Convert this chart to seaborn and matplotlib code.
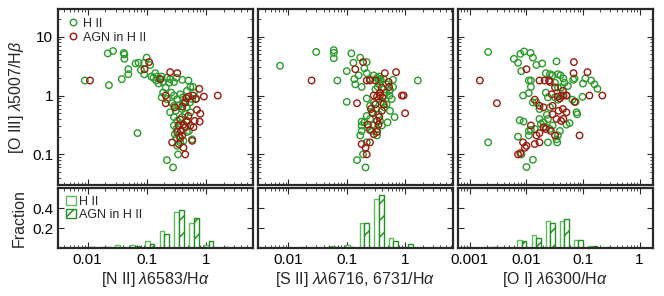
import numpy as np
import matplotlib
matplotlib.use('Agg')
import matplotlib.pyplot as plt
import seaborn as sns
from matplotlib.ticker import LogLocator, FixedLocator, NullFormatter, FuncFormatter
from matplotlib.lines import Line2D
from matplotlib.patches import Patch

sns.set_style('ticks')
plt.rcParams['font.family'] = ['Liberation Sans', 'DejaVu Sans']
plt.rcParams['mathtext.fontset'] = 'custom'
plt.rcParams['mathtext.rm'] = 'Liberation Sans'
plt.rcParams['mathtext.it'] = 'Liberation Sans:italic'
plt.rcParams['hatch.linewidth'] = 1.1

# ---- scatter data: line ratio (x) vs [O III]/Hbeta (y) ----
n2_hii_x = [0.009, 0.023, 0.022, 0.027, 0.041, 0.042, 0.042, 0.038, 0.049, 0.049, 0.065, 0.073, 0.08, 0.091,
            0.10, 0.091, 0.115, 0.07, 0.13, 0.14, 0.145, 0.17, 0.18, 0.19, 0.22, 0.24, 0.25, 0.29, 0.32, 0.40,
            0.51, 0.55, 0.21, 0.19, 0.18, 0.22, 0.26, 0.29, 0.33, 0.37, 0.41, 0.45, 0.59, 0.69, 0.63, 0.48,
            0.29, 0.31, 0.35, 0.40, 0.48, 0.55, 0.29, 0.33, 0.40, 0.45, 0.29, 0.32, 0.37, 0.48, 0.30, 0.35,
            0.48, 0.33, 0.37, 0.34, 0.22, 0.28, 0.59, 0.61, 0.27, 0.42, 0.54, 0.25, 0.52, 0.42, 0.32, 0.16,
            0.15, 0.12]
n2_hii_y = [1.8, 1.5, 5.2, 5.7, 5.3, 5.0, 4.2, 1.9, 2.8, 2.3, 3.5, 3.6, 2.7, 3.6,
            4.4, 2.3, 3.3, 0.23, 2.0, 2.4, 1.8, 1.9, 2.1, 1.7, 2.0, 1.65, 1.9, 1.7, 2.0, 1.85,
            1.8, 1.4, 1.36, 1.12, 0.93, 0.87, 1.12, 1.0, 0.87, 1.05, 0.93, 0.81, 0.87, 0.89, 1.12, 1.2,
            0.67, 0.55, 0.67, 0.59, 0.63, 0.52, 0.43, 0.37, 0.43, 0.49, 0.31, 0.27, 0.33, 0.35, 0.22, 0.21,
            0.24, 0.14, 0.16, 0.10, 0.08, 0.06, 0.18, 1.4, 0.74, 0.74, 0.76, 0.52, 0.25, 0.17, 0.19, 1.6,
            2.1, 2.1]
n2_agn_x = [0.011, 0.11, 0.092, 0.17, 0.25, 0.33, 0.21, 0.21, 1.6, 0.93, 0.78, 0.81, 0.79, 0.71, 0.61,
            0.51, 0.59, 0.45, 0.27, 0.35, 0.35, 0.38, 0.42, 0.33, 0.40, 0.45, 0.48, 0.37, 0.40, 0.45,
            0.30, 0.55, 0.62, 0.65, 0.51, 0.37, 0.47, 0.68, 0.42]
n2_agn_y = [1.8, 3.7, 2.8, 1.9, 2.5, 2.4, 1.0, 0.74, 1.0, 0.96, 1.3, 0.49, 0.36, 0.57, 1.0,
            0.96, 0.17, 0.10, 0.16, 0.15, 0.31, 0.25, 0.32, 0.24, 0.21, 0.29, 0.37, 0.39, 0.65, 0.76,
            0.63, 0.31, 0.29, 0.37, 0.45, 0.19, 0.9, 0.87, 0.13]

s2_hii_x = [0.0072, 0.030, 0.060, 0.060, 0.060, 0.069, 0.10, 0.12, 0.13, 0.135, 0.14, 0.16, 0.17, 0.18,
            0.20, 0.22, 0.22, 0.25, 0.29, 0.33, 0.36, 0.38, 0.35, 0.38, 0.43, 0.62, 1.65, 0.10, 0.22,
            0.25, 0.27, 0.29, 0.32, 0.35, 0.43, 0.47, 0.54, 0.54, 0.59, 0.48, 0.55, 0.66, 0.50, 0.18,
            0.17, 0.18, 0.20, 0.25, 0.27, 0.35, 0.37, 0.40, 0.33, 0.19, 0.15, 0.21, 0.22, 0.31, 0.34,
            0.37, 0.48, 0.55, 0.62, 0.40, 0.44, 0.33, 0.29, 0.22, 0.23, 0.18]
s2_hii_y = [3.2, 5.5, 5.9, 5.3, 4.3, 1.8, 2.6, 5.2, 3.6, 1.9, 1.55, 2.2, 4.4, 1.4,
            2.9, 3.7, 2.4, 1.9, 2.2, 2.0, 2.1, 1.9, 1.8, 1.75, 1.9, 1.85, 1.8, 0.78, 0.89,
            0.67, 0.52, 0.76, 0.59, 0.87, 1.0, 1.12, 1.0, 1.2, 0.87, 0.71, 0.55, 0.43, 0.35, 0.36,
            0.21, 0.31, 0.35, 0.40, 0.25, 0.48, 0.37, 0.31, 0.21, 0.10, 0.08, 0.06, 0.16, 1.27, 1.4,
            1.55, 1.55, 1.25, 1.4, 0.76, 0.63, 0.27, 0.31, 0.45, 0.29, 0.25]
s2_agn_x = [0.025, 0.14, 0.19, 0.15, 0.22, 0.25, 0.31, 0.45, 0.70, 0.52, 0.53, 0.29, 0.33, 0.37, 0.41,
            0.88, 0.94, 1.0, 0.40, 0.37, 0.26, 0.28, 0.40, 0.33, 0.35, 0.23, 0.25, 0.29, 0.33, 0.18,
            0.21, 0.22, 0.25, 0.36, 0.31, 0.43]
s2_agn_y = [1.8, 2.8, 3.7, 0.74, 1.8, 1.8, 1.8, 2.4, 2.5, 1.7, 1.4, 1.0, 0.96, 1.0, 0.93,
            1.0, 1.0, 0.5, 1.35, 1.12, 0.59, 0.50, 0.55, 0.37, 0.32, 0.32, 0.26, 0.22, 0.24, 0.15,
            0.13, 0.10, 0.16, 0.43, 0.71, 0.71]

o1_hii_x = [0.0021, 0.0021, 0.0060, 0.0071, 0.0078, 0.0091, 0.0118, 0.013, 0.0081, 0.015, 0.019, 0.011,
            0.012, 0.012, 0.0087, 0.011, 0.034, 0.022, 0.026, 0.029, 0.036, 0.040, 0.045, 0.067, 0.071,
            0.11, 0.14, 0.16, 0.18, 0.10, 0.098, 0.013, 0.015, 0.017, 0.026, 0.022, 0.024, 0.032, 0.036,
            0.042, 0.051, 0.065, 0.074, 0.077, 0.079, 0.0076, 0.0089, 0.0071, 0.011, 0.012, 0.011, 0.0081,
            0.013, 0.010, 0.018, 0.020, 0.023, 0.024, 0.022, 0.026, 0.029, 0.024, 0.034, 0.035, 0.036,
            0.039, 0.051, 0.058, 0.041, 0.047, 0.054, 0.032, 0.036, 0.017, 0.014]
o1_hii_y = [5.5, 0.16, 4.2, 3.6, 5.1, 5.6, 5.3, 4.4, 2.6, 3.3, 3.5, 1.8,
            1.8, 1.4, 1.0, 1.1, 3.8, 2.4, 2.3, 2.2, 2.3, 2.2, 1.95, 1.85, 1.95,
            1.95, 1.8, 1.55, 1.3, 1.6, 0.95, 0.76, 0.76, 0.59, 0.63, 1.12, 0.93, 0.93, 0.85,
            1.0, 1.0, 0.85, 0.78, 0.52, 0.48, 0.38, 0.36, 0.2, 0.25, 0.26, 0.21, 0.10,
            0.081, 0.061, 0.33, 0.35, 0.47, 0.40, 0.29, 0.27, 0.31, 0.16, 0.18, 0.16, 0.21,
            0.25, 0.32, 0.34, 1.37, 1.65, 1.45, 1.65, 1.37, 0.4, 0.27]
o1_agn_x = [0.0015, 0.003, 0.010, 0.069, 0.12, 0.068, 0.13, 0.22, 0.087, 0.071, 0.014, 0.017, 0.020,
            0.017, 0.021, 0.025, 0.028, 0.032, 0.036, 0.039, 0.045, 0.051, 0.029, 0.037, 0.044, 0.051,
            0.029, 0.034, 0.012, 0.017, 0.015, 0.020, 0.022, 0.027, 0.032, 0.0087, 0.0094, 0.010, 0.014,
            0.017, 0.0071, 0.0078, 0.041, 0.045, 0.026, 0.044]
o1_agn_y = [1.8, 0.74, 2.8, 3.7, 2.5, 2.4, 1.0, 1.0, 0.21, 0.78, 0.85, 0.67, 0.63,
            1.8, 1.8, 1.8, 1.05, 1.37, 0.96, 0.89, 1.0, 1.0, 0.67, 0.55, 0.59, 0.52,
            0.48, 0.40, 0.31, 0.23, 0.21, 0.29, 0.27, 0.25, 0.21, 0.16, 0.13, 0.14, 0.15,
            0.16, 0.10, 0.105, 0.37, 0.40, 1.7, 1.2]

# ---- histogram data: bin centres (log10) and fractions ----
n2_bins = [-1.95, -1.7, -1.45, -1.2, -0.95, -0.7, -0.45, -0.2, 0.05, 0.3]
n2_hist_hii = [0.012, 0.01, 0.035, 0.03, 0.072, 0.17, 0.365, 0.25, 0.035, 0.005]
n2_hist_agn = [0.008, 0.01, 0.005, 0.02, 0.045, 0.14, 0.38, 0.30, 0.075, 0.01]

s2_bins = [-1.7, -1.45, -1.2, -0.95, -0.7, -0.45, -0.2, 0.05, 0.3]
s2_hist_hii = [0.01, 0.0, 0.025, 0.035, 0.25, 0.49, 0.10, 0.01, 0.005]
s2_hist_agn = [0.0, 0.0, 0.01, 0.015, 0.25, 0.53, 0.07, 0.045, 0.0]

o1_bins = [-2.83, -2.58, -2.33, -2.08, -1.83, -1.58, -1.33, -1.08, -0.83, -0.58]
o1_hist_hii = [0.003, 0.007, 0.0, 0.085, 0.13, 0.27, 0.27, 0.08, 0.025, 0.003]
o1_hist_agn = [0.005, 0.007, 0.0, 0.075, 0.10, 0.25, 0.29, 0.085, 0.025, 0.01]

xlabels = [r'[N II] $\lambda$6583/H$\alpha$',
           r'[S II] $\lambda\lambda$6716, 6731/H$\alpha$',
           r'[O I] $\lambda$6300/H$\alpha$']
xlims = [(10**-2.5, 10**0.8), (10**-2.52, 10**0.82), (10**-3.22, 10**0.23)]
xticks = [[0.01, 0.1, 1], [0.01, 0.1, 1], [0.001, 0.01, 0.1, 1]]

green = '#2b9b2b'
red = '#9a1a0e'
hist_light = '#5cbf5c'
hist_dark = '#1f911f'
spine_col = '#2a2a2a'

fig = plt.figure(figsize=(6.64, 2.96), dpi=100)
lefts = [58 / 664, 258 / 664, 457.5 / 664]
w = 195 / 664

panels = [(n2_hii_x, n2_hii_y, n2_agn_x, n2_agn_y, n2_bins, n2_hist_hii, n2_hist_agn),
          (s2_hii_x, s2_hii_y, s2_agn_x, s2_agn_y, s2_bins, s2_hist_hii, s2_hist_agn),
          (o1_hii_x, o1_hii_y, o1_agn_x, o1_agn_y, o1_bins, o1_hist_hii, o1_hist_agn)]


def style(ax):
    for sp in ax.spines.values():
        sp.set_linewidth(1.6)
        sp.set_color(spine_col)
    ax.tick_params(which='both', direction='in', top=True, right=True, labelsize=11, colors=spine_col,
                   labelcolor='black')
    ax.tick_params(which='major', length=4, width=0.8)
    ax.tick_params(which='minor', length=2, width=0.6)


fmt = FuncFormatter(lambda v, p: '%g' % v)
bw = 0.08

for i, (hx, hy, ax_, ay, bins, hh, ha) in enumerate(panels):
    ax = fig.add_axes([lefts[i], 1 - 185 / 296, w, 176 / 296])
    sns.scatterplot(x=hx, y=hy, ax=ax, marker='o', s=22, facecolors='none', edgecolor=green,
                    linewidth=1.0)
    sns.scatterplot(x=ax_, y=ay, ax=ax, marker='o', s=22, facecolors='none', edgecolor=red,
                    linewidth=1.0)
    ax.set_xscale('log')
    ax.set_yscale('log')
    ax.set_xlim(*xlims[i])
    ax.set_ylim(10**-1.52, 10**1.47)
    style(ax)
    ax.xaxis.set_major_locator(FixedLocator(xticks[i]))
    ax.xaxis.set_minor_locator(LogLocator(base=10, subs=np.arange(2, 10)))
    ax.xaxis.set_major_formatter(NullFormatter())
    ax.xaxis.set_minor_formatter(NullFormatter())
    ax.yaxis.set_major_locator(FixedLocator([0.1, 1, 10]))
    ax.yaxis.set_minor_locator(LogLocator(base=10, subs=np.arange(2, 10)))
    ax.yaxis.set_minor_formatter(NullFormatter())
    if i == 0:
        ax.yaxis.set_major_formatter(fmt)
        ax.set_ylabel(r'[O III] $\lambda$5007/H$\beta$', fontsize=11.5, labelpad=4)
        handles = [Line2D([], [], marker='o', ls='', mfc='none', mec=green, mew=1.0, ms=4.7),
                   Line2D([], [], marker='o', ls='', mfc='none', mec=red, mew=1.0, ms=4.7)]
        ax.legend(handles, ['H II', 'AGN in H II'], loc='upper left', frameon=False, fontsize=9,
                  handletextpad=0.3, handlelength=1.0, borderaxespad=0.3, labelspacing=0.15)
    else:
        ax.yaxis.set_major_formatter(NullFormatter())
        ax.set_ylabel('')

    hax = fig.add_axes([lefts[i], 1 - 248 / 296, w, 60 / 296])
    c = np.array(bins)
    hax.bar(10**(c - bw), hh, width=10**c - 10**(c - bw), align='edge', facecolor='white',
            edgecolor=hist_light, linewidth=1.0)
    hax.bar(10**c, ha, width=10**(c + bw) - 10**c, align='edge', facecolor='white',
            edgecolor=hist_dark, linewidth=1.0, hatch='//')
    hax.set_xscale('log')
    hax.set_xlim(*xlims[i])
    hax.set_ylim(0, 0.6)
    style(hax)
    hax.xaxis.set_major_locator(FixedLocator(xticks[i]))
    hax.xaxis.set_minor_locator(LogLocator(base=10, subs=np.arange(2, 10)))
    hax.xaxis.set_major_formatter(fmt)
    hax.xaxis.set_minor_formatter(NullFormatter())
    hax.yaxis.set_major_locator(FixedLocator([0.2, 0.4]))
    hax.set_xlabel(xlabels[i], fontsize=11.5, labelpad=2)
    if i == 0:
        hax.set_yticklabels(['0.2', '0.4'])
        hax.set_ylabel('Fraction', fontsize=11.5, labelpad=4)
        hh_handles = [Patch(facecolor='white', edgecolor=hist_light, linewidth=1.0),
                      Patch(facecolor='white', edgecolor=hist_dark, linewidth=1.0, hatch='//')]
        hax.legend(hh_handles, ['H II', 'AGN in H II'], loc='upper left', frameon=False, fontsize=9,
                   handletextpad=0.3, handlelength=0.8, handleheight=0.8, borderaxespad=0.2,
                   labelspacing=0.1)
    else:
        hax.set_yticklabels([])

fig.align_ylabels()
fig.savefig('out.png', dpi=100)
